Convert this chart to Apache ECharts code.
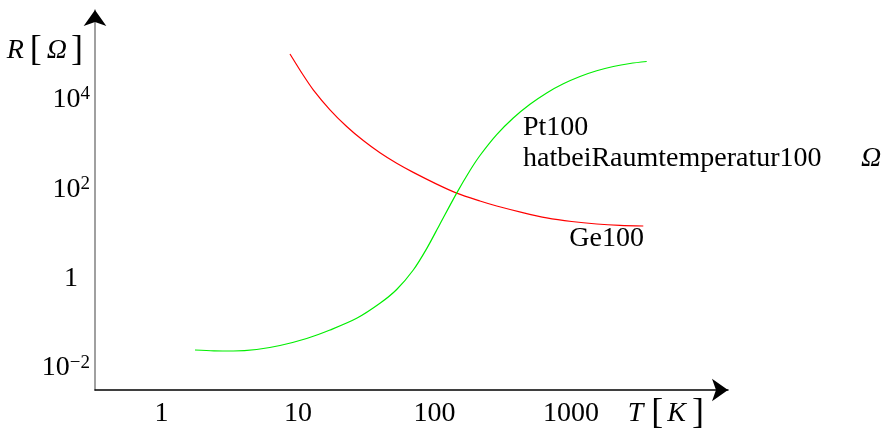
<!DOCTYPE html>
<html>
<head>
<meta charset="utf-8">
<script src="https://cdn.jsdelivr.net/npm/echarts@6/dist/echarts.min.js"></script>
<style>
  html, body { margin: 0; padding: 0; background: #fff; }
  #chart { width: 888px; height: 430px; }
</style>
</head>
<body>
<div id="chart"></div>
<script>
// ---- data (log-log sketch) ----
const xTickValues = [1, 10, 100, 1000];
const xTickLabels = ['1', '10', '100', '1000'];
const yTickValues = [0.01, 1, 100, 10000];
const yTickLabels = ['{m|10}{s|−2}', '{o|1}', '{m|10}{s|2}', '{m|10}{s|4}'];

// Ge100 (red, falling)
const tempGe = [8.74, 10.94, 12.94, 17.16, 22.74, 30.09, 39.87, 52.86, 69.94, 103.8, 145.4, 215.4, 285.6, 435.3, 663.7, 1012, 1543, 2286, 3385];
const resGe  = [106400, 35510, 16830, 6005, 2541, 1229, 655.4, 381.6, 238.8, 130.7, 82.22, 54.74, 42.30, 30.59, 23.04, 19.04, 16.74, 15.57, 15.10];

// Pt100 (green, rising)
const tempPt = [1.76, 2.425, 3.357, 4.983, 7.382, 11.58, 17.16, 26.92, 39.87, 52.86, 69.94, 87.69, 109.7, 145.4, 182.0, 215.4, 285.6, 377.8, 500.7, 663.7, 878.4, 1164, 1543, 2041, 2705, 3586];
const resPt  = [0.02541, 0.02438, 0.02413, 0.02607, 0.03202, 0.04594, 0.07115, 0.1300, 0.2817, 0.5733, 1.565, 4.714, 16.74, 82.22, 263.4, 570.5, 1674, 3937, 7973, 14340, 22920, 33380, 44770, 55870, 65220, 72300];

const annotationPt = 'Pt100';
const annotationPt2 = 'hatbeiRaumtemperatur100';
const annotationOhm = 'Ω';
const annotationGe = 'Ge100';

const FONT = 'Liberation Serif';

function pair(xs, ys) { return xs.map((x, i) => [x, ys[i]]); }
function findTick(values, v) {
  for (let i = 0; i < values.length; i++) {
    if (Math.abs(Math.log10(v) - Math.log10(values[i])) < 1e-6) return i;
  }
  return -1;
}

const chart = echarts.init(document.getElementById('chart'), null, { renderer: 'canvas' });

const option = {
  backgroundColor: '#fff',
  animation: false,
  grid: { left: 95, right: 160, top: 10, bottom: 40, containLabel: false, outerBoundsMode: 'none' },
  xAxis: {
    type: 'log',
    logBase: 10,
    min: 0.326,
    max: 14130,
    axisLine: {
      show: true, onZero: false,
      symbol: ['none', 'arrow'], symbolSize: [17, 16],
      lineStyle: { color: '#000', width: 1.5 }
    },
    axisTick: { show: false },
    splitLine: { show: false },
    axisLabel: {
      interval: 0,
      margin: 10,
      color: '#000',
      fontFamily: FONT,
      fontSize: 28,
      formatter: function (v) {
        const i = findTick(xTickValues, v);
        return i >= 0 ? xTickLabels[i] : '';
      }
    },
    name: '{i|T}{bl|[}{i|K}{br|]}',
    nameLocation: 'end',
    nameGap: -24,
    nameTextStyle: {
      align: 'right',
      verticalAlign: 'top',
      padding: [6, 0, 0, 0],
      rich: {
        i: { fontFamily: FONT, fontStyle: 'italic', fontSize: 28, color: '#000' },
        bl: { fontFamily: FONT, fontSize: 36, color: '#000', padding: [0, 4, 0, 8] },
        br: { fontFamily: FONT, fontSize: 36, color: '#000', padding: [0, 0, 0, 6] }
      }
    }
  },
  yAxis: [{
    type: 'log',
    logBase: 10,
    min: 0.00324,
    max: 1025000,
    axisLine: {
      show: true, onZero: false,
      lineStyle: { color: '#808080', width: 1.5 }
    },
    axisTick: { show: false },
    splitLine: { show: false },
    axisLabel: {
      interval: 0,
      margin: 5,
      color: '#000',
      formatter: function (v) {
        const i = findTick(yTickValues, v);
        return i >= 0 ? yTickLabels[i] : '';
      },
      rich: {
        m: { fontFamily: FONT, fontSize: 28, lineHeight: 30, color: '#000' },
        s: { fontFamily: FONT, fontSize: 19, lineHeight: 15, verticalAlign: 'top', color: '#000' },
        o: { fontFamily: FONT, fontSize: 28, lineHeight: 30, color: '#000', padding: [0, 12, 0, 0] }
      }
    },
    name: '{i|R}{bl|[}{i|Ω}{br|]}',
    nameLocation: 'end',
    nameGap: -41,
    nameTextStyle: {
      align: 'right',
      verticalAlign: 'middle',
      padding: [0, 12, 0, 0],
      rich: {
        i: { fontFamily: FONT, fontStyle: 'italic', fontSize: 28, color: '#000' },
        bl: { fontFamily: FONT, fontSize: 36, color: '#000', padding: [0, 5, 0, 6] },
        br: { fontFamily: FONT, fontSize: 36, color: '#000', padding: [0, 0, 0, 4] }
      }
    }
  }, {
    // overlay axis only to draw the black arrow head at the top of the grey y axis
    type: 'log',
    logBase: 10,
    min: 0.00324,
    max: 1025000,
    position: 'left',
    axisLine: {
      show: true, onZero: false,
      symbol: ['none', 'arrow'], symbolSize: [17, 16],
      lineStyle: { color: '#000', width: 0 }
    },
    axisTick: { show: false },
    axisLabel: { show: false },
    splitLine: { show: false }
  }],
  series: [{
    name: annotationGe,
    type: 'line',
    data: pair(tempGe, resGe),
    smooth: 0.3,
    showSymbol: false,
    lineStyle: { color: '#ff0000', width: 1.2 },
    z: 3
  }, {
    name: annotationPt,
    type: 'line',
    data: pair(tempPt, resPt),
    smooth: 0.3,
    showSymbol: false,
    lineStyle: { color: '#00ee00', width: 1.2 },
    z: 4
  }],
  graphic: [
    { type: 'text', left: 523, top: 114, style: { text: annotationPt, font: '28px "' + FONT + '"', fill: '#000' } },
    { type: 'text', left: 523, top: 145, style: { text: annotationPt2, font: '28px "' + FONT + '"', fill: '#000' } },
    { type: 'text', left: 861, top: 145, style: { text: annotationOhm, font: 'italic 28px "' + FONT + '"', fill: '#000' } },
    { type: 'text', right: 888 - 644, top: 225, style: { text: annotationGe, font: '28px "' + FONT + '"', fill: '#000' } }
  ]
};

chart.setOption(option);
</script>
</body>
</html>
